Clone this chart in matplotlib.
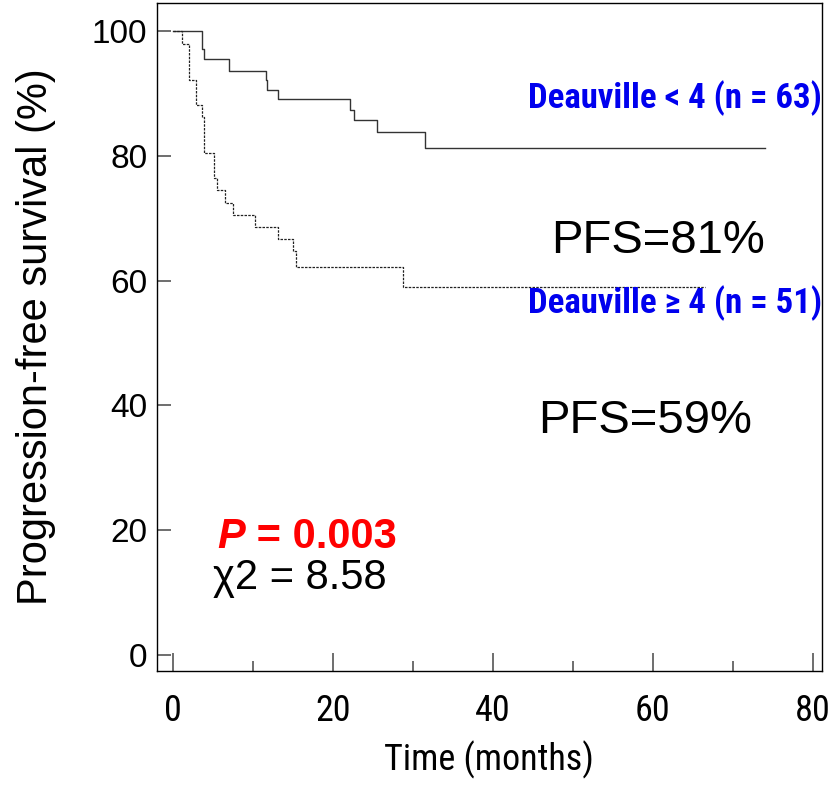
import matplotlib
matplotlib.use("Agg")
import matplotlib.pyplot as plt
from matplotlib import font_manager

# 字体：普通用 Liberation Sans（Arial 替代），窄体取第一个已安装的
names = {f.name for f in font_manager.fontManager.ttflist}
narrow = next((n for n in ["Roboto Condensed", "Archivo Narrow", "Liberation Sans Narrow"] if n in names),
              "Liberation Sans")
NARROW = [narrow, "DejaVu Sans"]
plt.rcParams['font.family'] = ['Liberation Sans', 'DejaVu Sans']

# Deauville < 4 (n = 63)：时间 (月) 与生存率 (%)
low_time = [0, 3.7, 3.9, 7.0, 11.6, 11.8, 13.1, 22.2, 22.6, 25.5, 31.5, 74.0]
low_surv = [100, 97.1, 95.6, 93.7, 92.1, 90.5, 89.1, 87.3, 85.7, 83.8, 81.3, 81.3]

# Deauville >= 4 (n = 51)
high_time = [0, 1.2, 2.0, 2.85, 3.6, 3.9, 5.1, 5.5, 6.5, 7.5, 10.3, 13.2, 15.0, 15.4, 28.8, 66.5]
high_surv = [100, 98.0, 92.2, 88.2, 86.3, 80.4, 76.5, 74.5, 72.5, 70.6, 68.6, 66.7, 64.7, 62.2, 59.0, 59.0]

x_ticks = [0, 20, 40, 60, 80]
x_minor = [10, 30, 50, 70]
y_ticks = [0, 20, 40, 60, 80, 100]

fig = plt.figure(figsize=(8.3, 7.93), dpi=100)
ax = fig.add_axes([0.189, 0.154, 0.801, 0.842])

ax.step(low_time, low_surv, where='post', color='#333333', lw=1.0)
ax.step(high_time, high_surv, where='post', color='#222222', lw=0.9, linestyle=(0, (2, 1)))

ax.set_xlim(-2, 81.1)
ax.set_ylim(-2.6, 104.5)

ax.set_xticks(x_ticks)
ax.set_xticks(x_minor, minor=True)
ax.set_yticks(y_ticks)
ax.tick_params(axis='x', which='major', direction='in', length=13, width=1.2, color='#555555', pad=16)
ax.tick_params(axis='x', which='minor', direction='in', length=7, width=1.2, color='#555555')
ax.tick_params(axis='y', which='major', direction='in', length=10, width=1.2, color='#555555', pad=7)
ax.set_xticklabels([str(v) for v in x_ticks], fontsize=26, family=NARROW)
ax.set_yticklabels([str(v) for v in y_ticks], fontsize=24)
for s in ax.spines.values():
    s.set_linewidth(1.0)

ax.set_xlabel("Time (months)", fontsize=26, family=NARROW, labelpad=8)
ax.set_ylabel("Progression-free survival (%)", fontsize=30, labelpad=26)

# 注释文字
ax.text(81.1, 89.3, "Deauville < 4 (n = 63)", color='#0000ee', fontsize=25, fontweight='bold',
        family=NARROW, ha='right', va='center')
ax.text(81.1, 56.4, "Deauville \u2265 4 (n = 51)", color='#0000ee', fontsize=25, fontweight='bold',
        family=NARROW, ha='right', va='center')
ax.text(60.6, 66.4, "PFS=81%", fontsize=34, ha='center', va='center')
ax.text(59.0, 37.5, "PFS=59%", fontsize=34, ha='center', va='center')
p_txt = ax.text(5.6, 18.9, "P", color='red', fontsize=30, fontweight='bold', fontstyle='italic',
                ha='left', va='center')
ax.annotate(" = 0.003", xy=(1, 0.5), xycoords=p_txt, color='red', fontsize=30, fontweight='bold',
            ha='left', va='center')
ax.text(5.0, 12.3, "\u03c72 = 8.58", fontsize=30, ha='left', va='center')

fig.savefig("out.png", dpi=100)
